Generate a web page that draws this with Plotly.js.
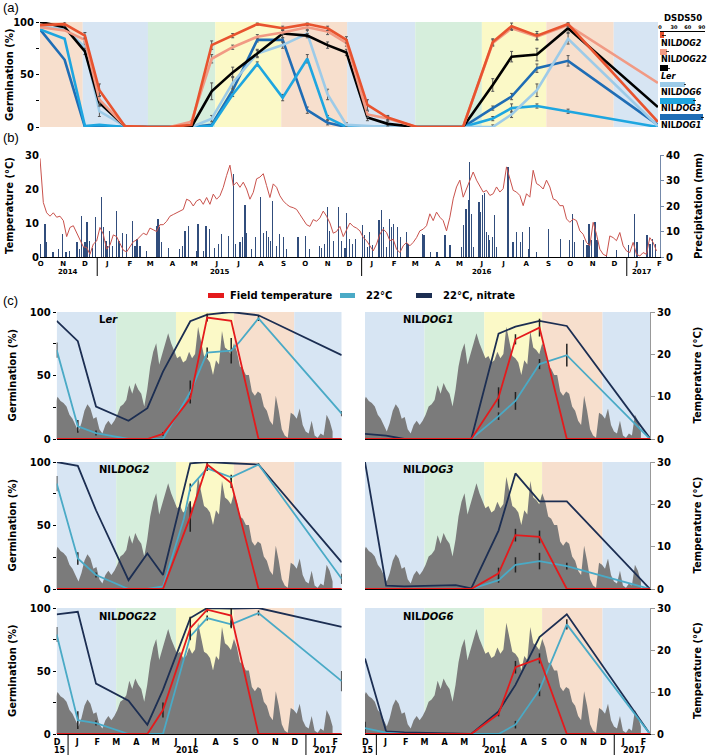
<!DOCTYPE html>
<html>
<head>
<meta charset="utf-8">
<script src="https://cdn.plot.ly/plotly-3.0.1.min.js"></script>
<style>
html,body{margin:0;padding:0;background:#fff;}
#chart{width:709px;height:755px;}
</style>
</head>
<body>
<div id="chart"></div>
<script>
// ================= DATA =================
// Panel (a): germination (%) of seeds exhumed over time
const aDates = ['2014-10-14','2014-11-17','2014-12-15','2015-01-04','2015-02-08','2015-03-11','2015-04-11','2015-05-11','2015-06-08','2015-07-07','2015-08-10','2015-09-14','2015-10-18','2015-11-15','2015-12-11','2016-01-09','2016-02-06','2016-03-17','2016-04-18','2016-05-20','2016-06-30','2016-07-26','2016-08-30','2016-10-12','2017-02-13'];
const aNILDOG2  = [97,98,87,35,1,0,0,2,78,87,98,94,98,94,83,21,9,0,0,0,81,96,87,98,5];
const aNILDOG22 = [95,92,83,26,1,0,0,5,65,76,86,90,95,91,80,12,8,0,0,0,80,94,86,97,42];
const aLer      = [100,95,72,23,1,0,0,0,34,52,70,89,87,78,71,9,3,0,0,0,40,67,69,94,19];
const aNILDOG6  = [95,94,76,15,1,0,0,0,8,42,70,78,89,31,2,1,0,0,0,0,0,12,35,84,1];
const aNILDOG3  = [93,84,1,2,0,0,0,0,1,31,60,28,65,9,0,0,0,0,0,0,8,18,20,15,0];
const aNILDOG1  = [93,64,0,1,0,0,0,0,2,35,83,83,16,4,0,0,0,0,0,0,18,29,56,63,2];
const aErrNILDOG2  = [0,2,3,6,0,0,0,0,4,2,1,2,1,2,3,5,2,0,0,0,3,3,4,2,0];
const aErrNILDOG22 = [0,0,2,4,0,0,0,1,4,2,2,2,2,3,3,3,2,0,0,0,3,2,3,2,0];
const aErrLer      = [0,0,3,3,0,0,0,0,8,5,3,4,2,3,3,3,2,0,0,0,6,5,6,4,0];
const aErrNILDOG6  = [0,0,3,5,0,0,0,0,3,6,4,3,3,5,2,0,0,0,0,0,2,3,6,5,0];
const aErrNILDOG3  = [0,0,0,0,0,0,0,0,0,2,2,3,4,2,0,0,0,0,0,0,2,4,2,2,0];
const aErrNILDOG1  = [0,0,0,0,0,0,0,0,0,2,2,2,3,2,0,0,0,0,0,0,2,3,4,5,0];

// DSDS50 mini bar chart
const dsLabels = ['NIL<i>DOG2</i>','NIL<i>DOG22</i>','<i>Ler</i>','NIL<i>DOG6</i>','NIL<i>DOG3</i>','NIL<i>DOG1</i>'];
const dsds50   = [9,16,18,54,75,92];
const dsds50Err = [4,3,3,3,3,3];

// Panel (b): temperature (every ~4.6 days) and precipitation events
const tempStart = '2014-10-14';
const tempStepDays = 4.6;
const tempVals = [29,16,13,12,13,11.7,12,10.7,6,8.7,
 9.2,7,4.7,3,2.8,0.8,3.8,4.7,8.7,6.7,
 2.3,3.5,6.5,6,4,2,1.5,3,4.5,5,
 6,7,6.5,8.5,8,7.5,9.5,9.5,10.5,12,
 12.5,13,13.5,14,17,16.5,15,16.5,17,15.5,
 17.5,15.5,18.5,17,18,20.5,24,27,21,22,
 20.5,22,20,17,19,23,23.5,24.5,21,17.5,
 21.5,20.5,18,16.5,15.5,14.8,14.5,14,12.5,11,
 9.5,9,11,10.5,11.5,13.5,12,10,7,7.5,
 9,6,8,10,9,8.5,
 7.7,5.7,4.8,3.3,1.8,3.8,6.7,8.2,7.2,4.8,
 5.2,2.3,1.3,3.3,4.3,3.3,4.3,5.7,7.7,8.2,
 9.2,12.7,10.7,13.2,11.7,10.7,7.7,11.7,17.1,20.6,
 22.6,17.6,20.1,22.1,25,22.6,20.6,19.1,19.6,18.1,
 18.6,20.6,19.1,20.1,26.5,23,19.6,19.1,18.1,15.1,
 18.6,17.6,25.5,21.6,21,20,22.6,20.6,17.1,16.6,
 15.1,15.1,11.2,10.2,11.2,10.7,7.7,6.7,4.3,3.3,
 10.2,6.7,2.3,0.8,0.3,6.2,5.7,4.8,7.2,3.3,
 1.8,1.3,4.3,0.8,0.3,1.3,0.8,5.7,4.3,1.8];
const precipBase = '2015-01-01';
const precipDay = [-78,-72,-70,-61,-53,-48,-43,-38,-28,-24,-22,-19,-17,-14,-11,-7,-2,6,9,12,14,17,21,27,30,35,40,49,52,55,59,68,82,84,86,89,98,114,118,121,126,137,139,147,150,155,162,167,172,181,188,191,197,201,204,206,213,218,225,229,234,236,239,242,247,252,257,261,277,287,293,307,310,314,318,321,326,333,337,342,344,348,352,356,
 366,369,373,376,380,389,392,395,399,403,406,409,415,419,427,429,449,451,460,469,480,487,503,506,509,512,514,517,519,527,529,532,535,537,540,542,546,548,551,567,574,579,584,587,595,597,606,623,639,652,656,659,671,676,679,682,687,690,703,717,733,742,745,759,763,767,771];
const precipMm = [5,13,6,2,3,9,2,2.4,6,3,16,4,5.7,13.6,6.3,3.7,15.8,23.5,11.6,6.3,4.4,10.3,4.4,18.2,6.3,9.6,9,14.3,4.4,7,4.4,2.4,12.3,15,11.6,5.7,3.7,3,4.4,10.3,12.3,2.4,13,2.4,12.3,11,3.7,5,9,8.3,32.7,5,5.7,7.7,20.2,9.6,3,7.7,23.5,9.6,10.3,7.7,6.3,22,4.4,9,7.7,3,7.7,8.3,3,4.4,3.7,5,19.8,10.3,6.3,19.8,6.3,3.7,17.2,7,5,7,
 12.5,8.5,4,10,4.6,14.4,18.4,11.8,4,15,11.8,13,11.8,7.9,10,5.2,9.2,8.5,2,2,8.5,4.6,4,12.5,19,22.3,37.4,17,4,21.6,17.7,24.3,25,9.8,8.5,6.6,7.9,16.4,4,35.4,5.9,9.8,5.9,9.8,3.3,11.8,2,11.1,7.2,6.6,17,5.9,6.6,4.6,13,6.6,13.8,6.6,0.7,2.6,4.6,17,5.9,8.5,5.2,7.2,5.2];

// Seasons (start date of each season)
const seasonStarts = ['2014-12-12','2015-03-12','2015-06-13','2015-09-12','2015-12-12','2016-03-15','2016-06-15','2016-09-12','2016-12-14'];
const seasonNames  = ['winter','spring','summer','autumn','winter','spring','summer','autumn','winter'];

// Panel (c): germination of seeds buried Dec 2015
const cDates = ['2015-12-14 12:00:00','2016-01-16','2016-02-13','2016-04-03','2016-05-02','2016-05-26','2016-06-27','2016-07-07','2016-08-02','2016-09-08','2016-09-20','2016-10-20','2017-02-25'];
const cLerField   = [0,0,0,0,0,4,null,32,95.6,93,null,0,0];
const cLer22      = [70,10,4.7,0,0,0,null,37,68,69.5,76,95,20];
const cLerNitrate = [93,77,25.6,14.4,24.3,53,null,92.7,98,100,null,97.4,66];
const cLerFieldErr = [0,0,0,0,0,1.5,0,0,3,0,0,0,0];
const cLer22Err    = [6,5,2,0,0,0,0,9,4,10,0,2,2];

const cD1Field   = [0,0,0,0,0,0,null,32.7,78.5,87.7,null,0,0];
const cD1_22     = [0,0,0,0,0,0,null,18,30,59,null,66,0];
const cD1Nitrate = [4,2.6,0,0,0,0,null,83,88.5,93,null,89,0.5];
const cD1FieldErr = [0,0,0,0,0,0,0,8,4,7,0,0,0];
const cD1_22Err   = [0,0,0,0,0,0,0,3,7,4,0,9,0];

const cD2Field   = [0,0,0,0,0,0,null,57,98,83.5,null,0,0];
const cD2_22     = [83,24,11,0,0,2,55,80,95,88,null,98,8];
const cD2Nitrate = [100,97,62,7,28,11,null,99,100,99,null,98,21];
const cD2FieldErr = [0,0,0,0,0,0,0,12,3,4,0,0,0];
const cD2_22Err   = [6,5,2,0,0,0,0,3,2,2,0,1,4];

const cD3Field   = [0,0,0,0,0,0,null,12.3,42.4,41,null,0,0];
const cD3_22     = [0,0,0,0,0,0,null,7,19,22,null,18,0];
const cD3Nitrate = [100,2.6,2,2.5,3,0.5,null,46,91,69,null,69,0];
const cD3FieldErr = [0,0,0,0,0,0,0,4.5,5,5,0,0,0];
const cD3_22Err   = [0,0,0,0,0,0,0,2,6,6.5,0,2.6,0];

const cD22Field   = [0,0,0,0,0,19,null,84,98.7,94,null,0,0];
const cD22_22     = [79,11,8.7,0,0,0,null,77.5,92,87,null,96,42];
const cD22Nitrate = [95,97,40,26.5,7.4,35,null,92,100,99.5,null,100,85];
const cD22FieldErr = [0,0,0,0,0,6,0,9,2,9,0,0,0];
const cD22_22Err   = [6,7,2,0,0,0,0,3,2,3,0,2,8];

const cD6Field   = [0,0,0,0,0,0,null,16,53,60,null,0,0];
const cD6_22     = [4.7,1,0,0,0,0,null,0,7.4,35,null,87,0];
const cD6Nitrate = [60,2,1.3,0.5,0,0,null,18,39,77,null,95,0];
const cD6FieldErr = [0,0,0,0,0,0,0,2,5,4,0,0,0];
const cD6_22Err   = [5,0,0,0,0,0,0,0,3,5,0,4,0];

const cNames = ['L<i>er</i>','NIL<i>DOG1</i>','NIL<i>DOG2</i>','NIL<i>DOG3</i>','NIL<i>DOG22</i>','NIL<i>DOG6</i>'];
const monthLetters = ['J','F','M','A','M','J','J','A','S','O','N','D'];

// ================= HELPERS / STYLE =================
const W=709, H=755;
const X = p => p/W, Y = p => 1 - p/H;
const F = 'DejaVu Sans';
const bf = (size,color) => ({family:F, size:size, weight:'bold', color:color||'#000'});
function parseD(s){ return Date.parse(s.length===10 ? s+'T00:00:00Z' : s.replace(' ','T')+'Z'); }
function fmt(ms){ return new Date(ms).toISOString().slice(0,19).replace('T',' '); }
const errArr = a => a.map(v => v>0 ? v : NaN);
function ann(o){ return Object.assign({xref:'paper', yref:'paper', showarrow:false, xanchor:'center', yanchor:'middle'}, o); }

const seasonColors = {winter:'#d7e5f3', spring:'#d6eedc', summer:'#fbf9c7', autumn:'#f7dfcd'};
const aRange = ['2014-10-14 00:00:00','2017-02-13 03:00:00'];
const bRange = ['2014-10-14 00:00:00','2017-02-15 21:00:00'];
const cRange = ['2015-12-14 12:00:00','2017-02-25 00:00:00'];

function seasonShapes(xref, yref, y0, y1, range){
  const s = parseD(range[0]), e = parseD(range[1]);
  const pts = seasonStarts.map(parseD);
  const out = [];
  let curStart = -Infinity, cur = 'autumn';
  for(let i=0;i<=pts.length;i++){
    const end = i<pts.length ? pts[i] : Infinity;
    const a = Math.max(curStart, s), b = Math.min(end, e);
    if(b > a) out.push({type:'rect', xref:xref, yref:yref, x0:fmt(a), x1:fmt(b), y0:y0, y1:y1,
      fillcolor:seasonColors[cur], line:{width:0}, layer:'below'});
    if(i<pts.length){ curStart = pts[i]; cur = seasonNames[i]; }
  }
  return out;
}
function monthTicks(range){
  const s = parseD(range[0]), e = parseD(range[1]);
  const d = new Date(s); let y = d.getUTCFullYear(), m = d.getUTCMonth();
  const vals=[], txt=[];
  for(;;){
    const t = Date.UTC(y,m,15);
    if(t > e) break;
    if(t >= s){ vals.push(fmt(t)); txt.push(monthLetters[m]); }
    m++; if(m>11){ m=0; y++; }
  }
  return {vals, txt};
}

const tempDates = tempVals.map((v,k) => fmt(parseD(tempStart) + k*tempStepDays*864e5));
const precipDates = precipDay.map(d => fmt(parseD(precipBase) + d*864e5));

const traces = [];
const shapes = [];
const annotations = [];
const layout = {
  width:W, height:H, margin:{l:0,r:0,t:0,b:0},
  paper_bgcolor:'#ffffff', plot_bgcolor:'rgba(0,0,0,0)',
  showlegend:false, font:{family:F, size:10, color:'#000'},
  bargap:0
};

// ================= PANEL (a) =================
layout.xaxis = {domain:[X(40),X(658)], range:aRange, type:'date', anchor:'y',
  showticklabels:false, ticks:'', showgrid:false, zeroline:false, showline:false};
layout.yaxis = {domain:[Y(127),Y(22)], range:[0,100], anchor:'x',
  tickvals:[0,25,50,75,100], ticktext:['0','','50','','100'], ticks:'outside', ticklen:3, tickcolor:'#000',
  tickfont:bf(10), showgrid:false, zeroline:false, showline:false};
shapes.push(...seasonShapes('x','y',0,100,aRange));
const aSeries = [
  {v:aNILDOG1, e:aErrNILDOG1, c:'#1f6db5'},
  {v:aNILDOG3, e:aErrNILDOG3, c:'#1ea6e0'},
  {v:aNILDOG6, e:aErrNILDOG6, c:'#9dcbe8'},
  {v:aLer,     e:aErrLer,     c:'#000000'},
  {v:aNILDOG22,e:aErrNILDOG22,c:'#f19a84'},
  {v:aNILDOG2, e:aErrNILDOG2, c:'#e8532f'}
];
aSeries.forEach(s => traces.push({type:'scatter', mode:'lines', x:aDates, y:s.v, xaxis:'x', yaxis:'y',
  line:{color:s.c, width:2.6}, error_y:{type:'data', array:errArr(s.e), color:'#555', thickness:1, width:1.5}}));

// DSDS50 mini bar chart
layout.xaxis2 = {domain:[X(660),X(705)], range:[0,97], anchor:'free', position:Y(31), side:'top',
  tickvals:[0,30,60,90], ticks:'', tickfont:bf(5), showline:true, linecolor:'#000', linewidth:1,
  showgrid:false, zeroline:false};
layout.yaxis2 = {domain:[Y(125.5),Y(27)], range:[5.5,-0.5], anchor:'x2', visible:false};
traces.push({type:'bar', orientation:'h', x:dsds50, y:[0,1,2,3,4,5], xaxis:'x2', yaxis:'y2', width:0.36,
  marker:{color:['#e8532f','#f19a84','#000000','#9dcbe8','#1ea6e0','#1f6db5'], line:{width:0}},
  error_x:{type:'data', array:dsds50Err, color:'#000', thickness:0.8, width:0}});
annotations.push(ann({text:'<b>DSDS50</b>', x:X(683), y:Y(18), font:bf(8.5)}));
dsLabels.forEach((t,i) => {
  const cy = 27 + (i+0.5)*98.5/6;
  annotations.push(ann({text:'<b>'+t+'</b>', x:X(659), y:Y(cy+8), xanchor:'left', font:bf(8)}));
});
annotations.push(ann({text:'Germination (%)', x:X(10), y:Y(75), textangle:-90, font:bf(10)}));
annotations.push(ann({text:'(a)', x:X(1), y:Y(7), xanchor:'left', font:{family:'Liberation Sans', size:13}}));

// ================= PANEL (b) =================
const bt = monthTicks(bRange);
layout.xaxis3 = {domain:[X(40),X(660)], range:bRange, type:'date', anchor:'y3',
  tickvals:bt.vals, ticktext:bt.txt, ticks:'', tickfont:bf(7), showline:true, linecolor:'#000', linewidth:1,
  showgrid:false, zeroline:false};
layout.yaxis3 = {domain:[Y(257),Y(155)], range:[0,40], anchor:'x3', side:'right',
  tickvals:[0,10,20,30,40], ticks:'outside', ticklen:3, tickcolor:'#7489aa', tickfont:bf(10),
  showline:true, linecolor:'#7489aa', linewidth:1, showgrid:false, zeroline:false};
layout.yaxis4 = {range:[0,30], anchor:'x3', overlaying:'y3', side:'left',
  tickvals:[0,10,20,30], ticks:'', tickfont:bf(10), showline:false, showgrid:false, zeroline:false};
traces.push({type:'bar', x:precipDates, y:precipMm, xaxis:'x3', yaxis:'y3', width:1.7*864e5,
  marker:{color:'#1b3a6e', opacity:0.9, line:{width:0}}});
traces.push({type:'scatter', mode:'lines', x:tempDates, y:tempVals, xaxis:'x3', yaxis:'y4',
  line:{color:'#c9524c', width:1}});
['2015-01-01','2016-01-01','2017-01-01'].forEach(d => shapes.push({type:'line', xref:'x3', yref:'paper',
  x0:d, x1:d, y0:Y(257), y1:Y(276), line:{color:'#000', width:1}}));
[['2014','2014-11-21'],['2015','2015-06-20'],['2016','2016-06-15'],['2017','2017-01-22']].forEach(p =>
  annotations.push(ann({text:p[0], xref:'x3', x:p[1], y:Y(272.5), font:bf(7)})));
annotations.push(ann({text:'Temperature (°C)', x:X(9), y:Y(206), textangle:-90, font:bf(10)}));
annotations.push(ann({text:'Precipitation (mm)', x:X(698), y:Y(206), textangle:-90, font:bf(10)}));
annotations.push(ann({text:'(b)', x:X(1), y:Y(138), xanchor:'left', font:{family:'Liberation Sans', size:13}}));

// ================= PANEL (c) =================
const cData = [
  {f:cLerField, t:cLer22, n:cLerNitrate, fe:cLerFieldErr, te:cLer22Err},
  {f:cD1Field,  t:cD1_22, n:cD1Nitrate,  fe:cD1FieldErr,  te:cD1_22Err},
  {f:cD2Field,  t:cD2_22, n:cD2Nitrate,  fe:cD2FieldErr,  te:cD2_22Err},
  {f:cD3Field,  t:cD3_22, n:cD3Nitrate,  fe:cD3FieldErr,  te:cD3_22Err},
  {f:cD22Field, t:cD22_22,n:cD22Nitrate, fe:cD22FieldErr, te:cD22_22Err},
  {f:cD6Field,  t:cD6_22, n:cD6Nitrate,  fe:cD6FieldErr,  te:cD6_22Err}
];
const rowsPx = [[312,439],[462,589],[608,734]];
const colsPx = [[56.7,341.7],[365,650]];
const ct = monthTicks(cRange);
const colField = '#e41a1c', col22 = '#4aaac6', colNit = '#1c2e52';
cData.forEach((d,i) => {
  const r = Math.floor(i/2), c = i%2;
  const xa = 'x'+(5+i), yb = 'y'+(5+i), yo = 'y'+(11+i);
  layout['xaxis'+(5+i)] = {domain:[X(colsPx[c][0]),X(colsPx[c][1])], range:cRange, type:'date', anchor:yb,
    tickvals:ct.vals, ticktext:ct.txt, showticklabels:r===2, ticks:'', tickfont:bf(8),
    showline:true, linecolor:'#000', linewidth:1, showgrid:false, zeroline:false};
  layout['yaxis'+(5+i)] = {domain:[Y(rowsPx[r][1]),Y(rowsPx[r][0])], range:[0,30], anchor:xa, side:'right',
    tickvals:[0,10,20,30], showticklabels:c===1, ticks:c===1?'outside':'', ticklen:4, tickcolor:'#999',
    tickfont:bf(10), showline:c===1, linecolor:'#999', linewidth:1, showgrid:false, zeroline:false};
  layout['yaxis'+(11+i)] = {range:[0,100], anchor:xa, overlaying:yb, side:'left',
    tickvals:[0,25,50,75,100], ticktext:['0','','50','','100'], showticklabels:c===0,
    ticks:c===0?'outside':'', ticklen:3, tickcolor:'#000', tickfont:bf(10),
    showline:false, showgrid:false, zeroline:false};
  shapes.push(...seasonShapes(xa, yb, 0, 30, cRange));
  traces.push({type:'scatter', mode:'lines', x:tempDates, y:tempVals, xaxis:xa, yaxis:yb,
    fill:'tozeroy', fillcolor:'#7b7b7b', line:{width:0, color:'#7b7b7b'}});
  traces.push({type:'scatter', mode:'lines', x:cDates, y:d.n, xaxis:xa, yaxis:yo, connectgaps:true,
    line:{color:colNit, width:1.8}});
  traces.push({type:'scatter', mode:'lines', x:cDates, y:d.t, xaxis:xa, yaxis:yo, connectgaps:true,
    line:{color:col22, width:1.8}, error_y:{type:'data', array:errArr(d.te), color:'#222', thickness:1.5, width:0}});
  traces.push({type:'scatter', mode:'lines', x:cDates, y:d.f, xaxis:xa, yaxis:yo, connectgaps:true,
    line:{color:colField, width:1.8}, error_y:{type:'data', array:errArr(d.fe), color:'#222', thickness:1.5, width:0}});
  annotations.push(ann({text:'<b>'+cNames[i]+'</b>', x:X(c===0?97:401), y:Y(rowsPx[r][0]+8), xanchor:'left', font:bf(10)}));
  if(c===0) annotations.push(ann({text:'Germination (%)', x:X(12),
    y:Y((rowsPx[r][0]+rowsPx[r][1])/2), textangle:-90, font:bf(10)}));
  else annotations.push(ann({text:'Temperature (°C)', x:X(697),
    y:Y((rowsPx[r][0]+rowsPx[r][1])/2), textangle:-90, font:bf(10)}));
  if(r===2){
    ['2016-01-01','2017-01-01'].forEach(dd => shapes.push({type:'line', xref:xa, yref:'paper',
      x0:dd, x1:dd, y0:Y(735), y1:Y(755), line:{color:'#000', width:1}}));
    [['15','2015-12-19'],['2016','2016-07-03'],['2017','2017-01-31']].forEach(p =>
      annotations.push(ann({text:p[0], xref:xa, x:p[1], y:Y(750.5), font:bf(8)})));
  }
});
// legend for panel (c)
[[208,224,colField,'Field temperature',228],[340,355,col22,'22°C',364],[416,432,colNit,'22°C, nitrate',441]].forEach(l => {
  shapes.push({type:'rect', xref:'paper', yref:'paper', x0:X(l[0]), x1:X(l[1]), y0:Y(298), y1:Y(293),
    fillcolor:l[2], line:{width:0}});
  annotations.push(ann({text:l[3], x:X(l[4]), y:Y(295.5), xanchor:'left', font:bf(10)}));
});
annotations.push(ann({text:'(c)', x:X(1), y:Y(300), xanchor:'left', font:{family:'Liberation Sans', size:13}}));

layout.shapes = shapes;
layout.annotations = annotations;
Plotly.newPlot('chart', traces, layout, {staticPlot:true, displayModeBar:false});
</script>
</body>
</html>
